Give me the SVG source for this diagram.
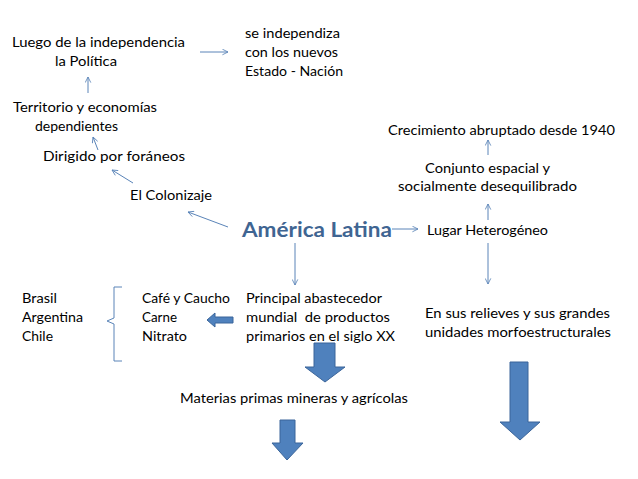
<svg xmlns="http://www.w3.org/2000/svg" width="638" height="479" viewBox="0 0 638 479">
<style>
.t{font-family:Lato,"Liberation Sans",sans-serif;font-size:14px;fill:#000}
.title{font-family:Lato,"Liberation Sans",sans-serif;font-size:21px;font-weight:bold;fill:#3f6592}
.c{stroke:#5a84b8;stroke-width:1;fill:none}
.blk{fill:#4f81bd;stroke:#3b659a;stroke-width:1}
</style>
<defs>
<marker id="ah" viewBox="0 0 10 10" refX="9" refY="5" markerWidth="7" markerHeight="7" orient="auto" markerUnits="userSpaceOnUse">
<path d="M1,1 L9,5 L1,9" fill="none" stroke="#5a84b8" stroke-width="1.2"/>
</marker>
</defs>
<rect width="638" height="479" fill="#fff"/>

<g id="luego"><text class="t" x="12" y="47" textLength="173" lengthAdjust="spacingAndGlyphs">Luego de la independencia</text><text class="t" x="55" y="66" textLength="62" lengthAdjust="spacingAndGlyphs">la Política</text></g>
<g id="se-independiza"><text class="t" x="245" y="38" textLength="95" lengthAdjust="spacingAndGlyphs">se independiza</text><text class="t" x="245" y="57" textLength="93" lengthAdjust="spacingAndGlyphs">con los nuevos</text><text class="t" x="245" y="76" textLength="98" lengthAdjust="spacingAndGlyphs">Estado - Nación</text></g>
<g id="territorio"><text class="t" x="13" y="112" textLength="144" lengthAdjust="spacingAndGlyphs">Territorio y economías</text><text class="t" x="35" y="131" textLength="83" lengthAdjust="spacingAndGlyphs">dependientes</text></g>
<g id="dirigido"><text class="t" x="43" y="161" textLength="142" lengthAdjust="spacingAndGlyphs">Dirigido por foráneos</text></g>
<g id="colonizaje"><text class="t" x="130" y="200" textLength="82" lengthAdjust="spacingAndGlyphs">El Colonizaje</text></g>
<g id="america"><text class="title" x="242" y="237" textLength="150" lengthAdjust="spacingAndGlyphs">América Latina</text></g>
<g id="lugar"><text class="t" x="427" y="235" textLength="121" lengthAdjust="spacingAndGlyphs">Lugar Heterogéneo</text></g>
<g id="conjunto"><text class="t" x="425" y="173" textLength="125" lengthAdjust="spacingAndGlyphs">Conjunto espacial y</text><text class="t" x="398" y="191" textLength="179" lengthAdjust="spacingAndGlyphs">socialmente desequilibrado</text></g>
<g id="crecimiento"><text class="t" x="388" y="135" textLength="227" lengthAdjust="spacingAndGlyphs">Crecimiento abruptado desde 1940</text></g>
<g id="paises"><text class="t" x="22" y="303" textLength="35" lengthAdjust="spacingAndGlyphs">Brasil</text><text class="t" x="22" y="322" textLength="61" lengthAdjust="spacingAndGlyphs">Argentina</text><text class="t" x="22" y="341" textLength="31" lengthAdjust="spacingAndGlyphs">Chile</text></g>
<g id="productos"><text class="t" x="142" y="303" textLength="88" lengthAdjust="spacingAndGlyphs">Café y Caucho</text><text class="t" x="142" y="322" textLength="35" lengthAdjust="spacingAndGlyphs">Carne</text><text class="t" x="142" y="341" textLength="45" lengthAdjust="spacingAndGlyphs">Nitrato</text></g>
<g id="principal"><text class="t" x="246" y="303" textLength="136" lengthAdjust="spacingAndGlyphs">Principal abastecedor</text><text class="t" x="246" y="322" textLength="144" lengthAdjust="spacingAndGlyphs" xml:space="preserve">mundial  de productos</text><text class="t" x="246" y="341" textLength="149" lengthAdjust="spacingAndGlyphs">primarios en el siglo XX</text></g>
<g id="relieves"><text class="t" x="425" y="318" textLength="185" lengthAdjust="spacingAndGlyphs">En sus relieves y sus grandes</text><text class="t" x="425" y="337" textLength="186" lengthAdjust="spacingAndGlyphs">unidades morfoestructurales</text></g>
<g id="materias"><text class="t" x="180" y="403" textLength="228" lengthAdjust="spacingAndGlyphs">Materias primas mineras y agrícolas</text></g>

<g id="connectors">
<line class="c" x1="200" y1="52" x2="228" y2="52" marker-end="url(#ah)"/>
<line class="c" x1="88" y1="93" x2="88" y2="77" marker-end="url(#ah)"/>
<line class="c" x1="98" y1="150" x2="93" y2="137" marker-end="url(#ah)"/>
<line class="c" x1="133" y1="183" x2="112" y2="170" marker-end="url(#ah)"/>
<line class="c" x1="228" y1="227" x2="188" y2="212" marker-end="url(#ah)"/>
<line class="c" x1="392" y1="229" x2="418" y2="229" marker-end="url(#ah)"/>
<line class="c" x1="295" y1="243" x2="295" y2="285" marker-end="url(#ah)"/>
<line class="c" x1="488" y1="243" x2="488" y2="284" marker-end="url(#ah)"/>
<line class="c" x1="488" y1="220" x2="488" y2="204" marker-end="url(#ah)"/>
<line class="c" x1="488" y1="155" x2="488" y2="140" marker-end="url(#ah)"/>
<path class="c" d="M122,287 L114,287 L114,318 L107,321 L114,324 L114,361 L122,361" stroke-width="1.2"/>
<polygon class="blk" points="207,320 215,313 215,317 233,317 233,323 215,323 215,327"/>
<polygon class="blk" points="314,343 335,343 335,367 345,367 325,382 305,367 314,367"/>
<polygon class="blk" points="280,420 295,420 295,443 303,443 287,460 272,443 280,443"/>
<polygon class="blk" points="510,362 528,362 528,422 540,422 520,440 500,422 510,422"/>
</g>
</svg>
